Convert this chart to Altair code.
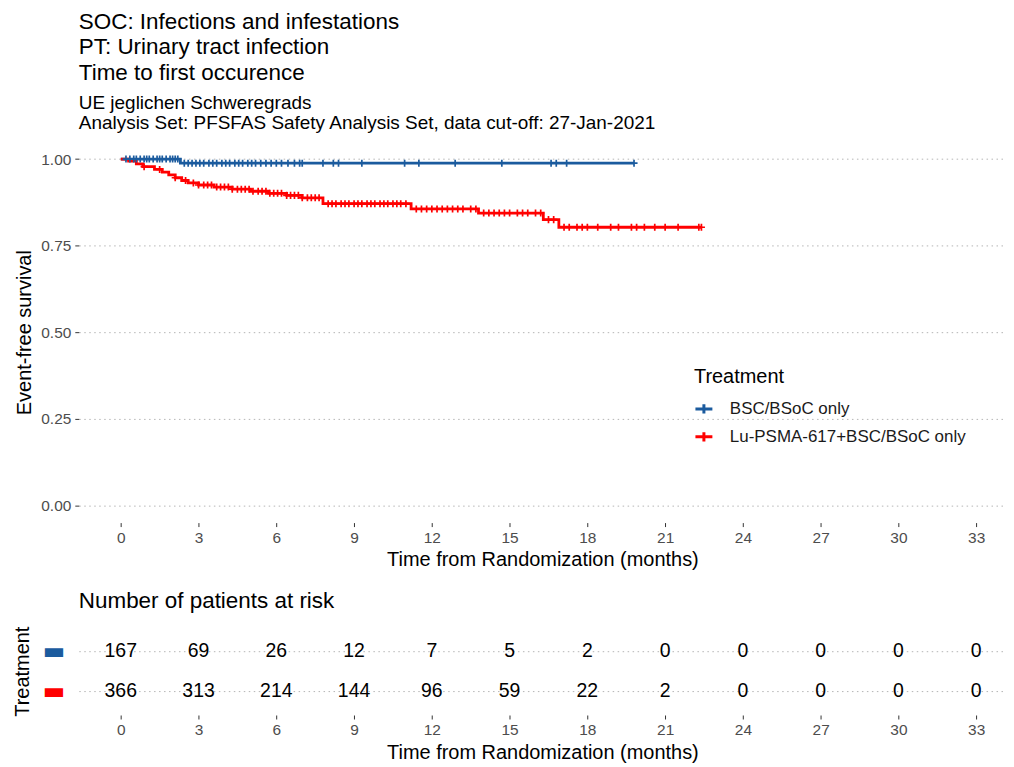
import bisect
import altair as alt
import pandas as pd

arms = ["BSC/BSoC only", "Lu-PSMA-617+BSC/BSoC only"]
arm_colors = ["#1b5b9e", "#ff0000"]

# Kaplan-Meier step points (time in months, event-free survival)
bsc_step_t = [0.0, 2.3]
bsc_step_s = [1.0, 0.988]
bsc_end = 19.8

lu_step_t = [0.0, 0.3, 0.6, 0.85, 1.3, 1.6, 1.85, 2.1, 2.35, 2.6, 3.0, 3.6, 4.3,
             5.0, 5.7, 6.4, 7.0, 7.8, 11.2, 13.8, 16.3, 16.9]
lu_step_s = [1.0, 0.994, 0.986, 0.978, 0.970, 0.962, 0.954, 0.946, 0.938, 0.931,
             0.925, 0.919, 0.913, 0.907, 0.901, 0.895, 0.888, 0.871, 0.856, 0.844,
             0.825, 0.803]
lu_end = 22.4

# censoring times (months)
bsc_censor = [0.2, 0.35, 0.5, 0.6, 0.75, 0.9, 1.0, 1.1, 1.25, 1.4, 1.5, 1.6, 1.75,
              1.9, 2.0, 2.1, 2.2, 2.45, 2.6, 2.75, 2.9, 3.05, 3.2, 3.4, 3.55, 3.7,
              3.9, 4.05, 4.2, 4.4, 4.55, 4.7, 4.9, 5.05, 5.2, 5.4, 5.6, 5.8, 6.0,
              6.2, 6.45, 6.7, 6.9, 7.0, 7.8, 8.2, 8.4, 9.3, 10.95, 11.5, 12.9,
              14.7, 16.6, 16.8, 17.2, 19.8]
lu_censor = [0.9, 1.5, 2.1, 2.5, 2.8, 3.0, 3.2, 3.35, 3.5, 3.7, 3.85, 4.0, 4.15,
             4.3, 4.5, 4.65, 4.8, 4.95, 5.1, 5.3, 5.45, 5.6, 5.75, 5.9, 6.05, 6.2,
             6.4, 6.55, 6.7, 6.85, 7.0, 7.2, 7.35, 7.5, 7.65, 8.0, 8.15, 8.3, 8.5,
             8.65, 8.8, 9.0, 9.15, 9.3, 9.5, 9.65, 9.8, 10.0, 10.15, 10.3, 10.5,
             10.65, 10.8, 11.0, 11.4, 11.6, 11.8, 12.0, 12.2, 12.4, 12.6, 12.8,
             13.0, 13.2, 13.5, 13.7, 14.0, 14.2, 14.4, 14.6, 14.8, 15.0, 15.3,
             15.5, 15.7, 16.0, 16.2, 16.5, 16.7, 17.1, 17.3, 17.6, 17.8, 18.0,
             18.4, 18.9, 19.2, 19.7, 19.9, 20.2, 20.6, 21.0, 21.5, 22.3, 22.4]

# number at risk
risk_times = [0, 3, 6, 9, 12, 15, 18, 21, 24, 27, 30, 33]
bsc_risk = [167, 69, 26, 12, 7, 5, 2, 0, 0, 0, 0, 0]
lu_risk = [366, 313, 214, 144, 96, 59, 22, 2, 0, 0, 0, 0]

titles = ["SOC: Infections and infestations", "PT: Urinary tract infection",
          "Time to first occurence"]
subtitles = ["UE jeglichen Schweregrads",
             "Analysis Set: PFSFAS Safety Analysis Set, data cut-off: 27-Jan-2021"]


def surv_at(step_t, step_s, t):
    i = bisect.bisect_right(step_t, t) - 1
    return step_s[max(i, 0)]


line_rows = []
for arm, st, ss, end in [(arms[0], bsc_step_t, bsc_step_s, bsc_end),
                         (arms[1], lu_step_t, lu_step_s, lu_end)]:
    for t, s in zip(st, ss):
        line_rows.append({"arm": arm, "time": t, "surv": s})
    line_rows.append({"arm": arm, "time": end, "surv": ss[-1]})
line_df = pd.DataFrame(line_rows)

cens_rows = []
for arm, st, ss, cens in [(arms[0], bsc_step_t, bsc_step_s, bsc_censor),
                          (arms[1], lu_step_t, lu_step_s, lu_censor)]:
    for t in cens:
        cens_rows.append({"arm": arm, "time": t, "surv": surv_at(st, ss, t)})
cens_df = pd.DataFrame(cens_rows)

risk_rows = []
for arm, vals in [(arms[0], bsc_risk), (arms[1], lu_risk)]:
    for t, n in zip(risk_times, vals):
        risk_rows.append({"arm": arm, "time": t, "n": n})
risk_df = pd.DataFrame(risk_rows)

PLOT_W = 930
x_scale = alt.Scale(domain=[-1.62, 34.15], nice=False, zero=False)


def x_axis():
    return alt.Axis(values=risk_times, title="Time from Randomization (months)",
                    grid=False, domain=False, tickColor="#333333", tickSize=4,
                    labelColor="#4d4d4d", labelFontSize=15.5, titleFontSize=20,
                    titleColor="#000000", titleFontWeight="normal",
                    labelPadding=4, titlePadding=4)


color = alt.Color("arm:N", scale=alt.Scale(domain=arms, range=arm_colors),
                  legend=alt.Legend(orient="none", legendX=617, legendY=226,
                                    title="Treatment", titleFontSize=20,
                                    titleFontWeight="normal", titleColor="#000000",
                                    titlePadding=12, labelFontSize=17,
                                    labelColor="#1a1a1a", labelLimit=400,
                                    symbolType="M-1,0H1M0,-0.55V0.55",
                                    symbolSize=289, symbolStrokeWidth=3,
                                    rowPadding=6, labelOffset=16))

y_top = alt.Y("surv:Q", scale=alt.Scale(domain=[-0.05, 1.05], nice=False, zero=False),
              axis=alt.Axis(values=[0, 0.25, 0.5, 0.75, 1.0], format=".2f",
                            title="Event-free survival", grid=True,
                            gridDash=[1.5, 3.5], gridColor="#b5b5b5", domain=False,
                            tickColor="#333333", tickSize=4, labelColor="#4d4d4d",
                            labelFontSize=15.5, titleFontSize=20,
                            titleColor="#000000", titleFontWeight="normal",
                            labelPadding=4, titlePadding=6))

lines = alt.Chart(line_df).mark_line(interpolate="step-after", strokeWidth=2.8).encode(
    x=alt.X("time:Q", scale=x_scale, axis=x_axis()),
    y=y_top,
    color=color,
)
marks = alt.Chart(cens_df).mark_point(shape="M-1,0H1M0,-1V1", filled=False, size=50,
                                      strokeWidth=1.7, opacity=1).encode(
    x=alt.X("time:Q", scale=x_scale),
    y=alt.Y("surv:Q"),
    color=alt.Color("arm:N", scale=alt.Scale(domain=arms, range=arm_colors)),
)

top = alt.layer(lines, marks).properties(
    width=PLOT_W, height=382,
    title=alt.TitleParams(text=titles, subtitle=subtitles, anchor="start",
                          frame="group", fontSize=22.5, lineHeight=26,
                          fontWeight="normal", color="#000000",
                          subtitleFontSize=19, subtitleLineHeight=20,
                          subtitleColor="#000000", subtitlePadding=9, offset=6,
                          dy=-3),
)

label_color = {"condition": {"test": "datum.value == 'BSC/BSoC only'",
                             "value": arm_colors[0]},
               "value": arm_colors[1]}

table = alt.Chart(risk_df).mark_text(fontSize=19.5, color="#000000").encode(
    x=alt.X("time:Q", scale=x_scale, axis=x_axis()),
    y=alt.Y("arm:N", scale=alt.Scale(domain=arms, type="point", padding=0.6),
            axis=alt.Axis(title="Treatment", labelExpr="'▬'", labelColor=label_color,
                          labelFont="DejaVu Sans", labelFontSize=24, ticks=False,
                          domain=False, grid=True, gridDash=[1.5, 3.5],
                          gridColor="#b5b5b5", labelPadding=14, titleFontSize=20,
                          titleColor="#000000", titleFontWeight="normal",
                          titlePadding=10)),
    text="n:Q",
).properties(
    width=PLOT_W, height=88,
    title=alt.TitleParams("Number of patients at risk", anchor="start", frame="group",
                          fontSize=22.5, fontWeight="normal", color="#000000",
                          offset=14),
)

chart = alt.vconcat(top, table, spacing=19).properties(
    padding={"left": 4, "top": 1, "right": 0, "bottom": 0}
).configure(font="Liberation Sans").configure_view(stroke="transparent", strokeWidth=0)

chart.save("out.html", embed_options={"renderer": "svg", "actions": False})
